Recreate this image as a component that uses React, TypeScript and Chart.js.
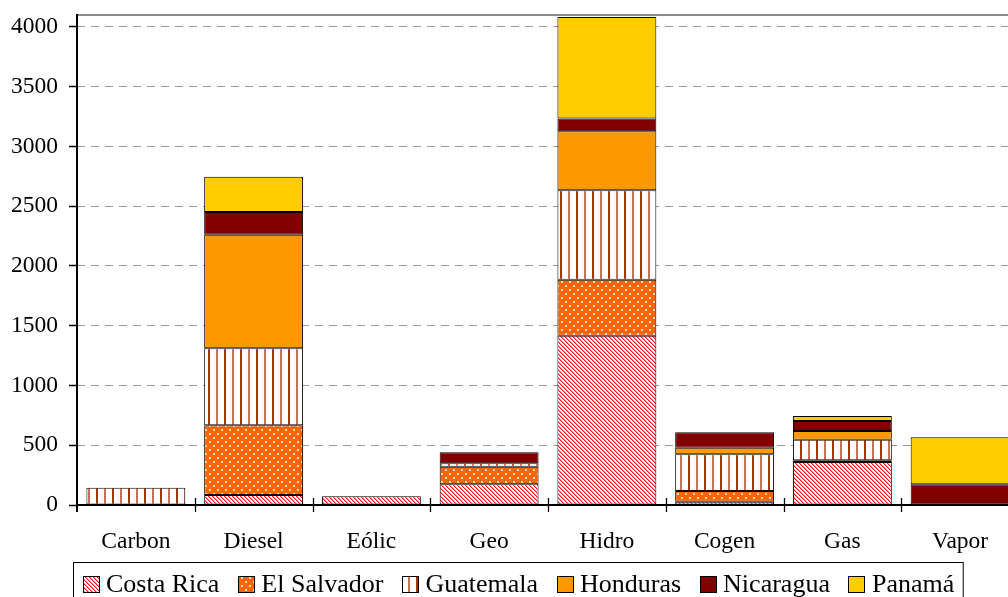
import { useEffect, useRef } from 'react';
import { Chart, registerables } from 'chart.js';

Chart.register(...registerables);

const categories = ['Carbon', 'Diesel', 'Eólic', 'Geo', 'Hidro', 'Cogen', 'Gas', 'Vapor'];
const seriesNames = ['Costa Rica', 'El Salvador', 'Guatemala', 'Honduras', 'Nicaragua', 'Panamá'];
const costaRica = [0, 84, 73, 173, 1417, 28, 360, 0];
const elSalvador = [0, 583, 0, 148, 468, 89, 15, 0];
const guatemala = [145, 644, 0, 28, 748, 307, 172, 0];
const honduras = [0, 951, 0, 0, 494, 56, 72, 0];
const nicaragua = [0, 190, 0, 92, 108, 128, 84, 173];
const panama = [0, 295, 0, 0, 849, 0, 42, 394];
const yTickValues = [0, 500, 1000, 1500, 2000, 2500, 3000, 3500, 4000];
const yMax = 4100;

const FONT = "'Liberation Serif', 'Times New Roman', serif";

function hatchPattern(ctx: CanvasRenderingContext2D): CanvasPattern {
  const c = document.createElement('canvas');
  c.width = 4;
  c.height = 4;
  const g = c.getContext('2d')!;
  g.fillStyle = '#ffffff';
  g.fillRect(0, 0, 4, 4);
  for (let x = 0; x < 4; x++) {
    for (let y = 0; y < 4; y++) {
      const d = (x - y + 8) % 4;
      if (d === 0) {
        g.fillStyle = '#ff1010';
        g.fillRect(x, y, 1, 1);
      } else if (d === 1) {
        g.fillStyle = '#ff9090';
        g.fillRect(x, y, 1, 1);
      }
    }
  }
  return ctx.createPattern(c, 'repeat')!;
}

function dotPattern(ctx: CanvasRenderingContext2D): CanvasPattern {
  const c = document.createElement('canvas');
  c.width = 8;
  c.height = 8;
  const g = c.getContext('2d')!;
  g.fillStyle = '#ff6600';
  g.fillRect(0, 0, 8, 8);
  g.fillStyle = '#ffd6b8';
  g.fillRect(1, 1, 2, 2);
  g.fillRect(5, 5, 2, 2);
  return ctx.createPattern(c, 'repeat')!;
}

function stripePattern(ctx: CanvasRenderingContext2D): CanvasPattern {
  const c = document.createElement('canvas');
  c.width = 16;
  c.height = 4;
  const g = c.getContext('2d')!;
  g.fillStyle = '#ffffff';
  g.fillRect(0, 0, 16, 4);
  g.fillStyle = '#a3360a';
  g.fillRect(0, 0, 2, 4);
  g.fillStyle = '#c27456';
  g.fillRect(8, 0, 2, 4);
  return ctx.createPattern(c, 'repeat')!;
}

const framePlugin = {
  id: 'frame',
  afterDatasetsDraw(chart: any) {
    const { ctx, chartArea: a, scales } = chart;
    const x = scales.x;
    ctx.save();
    ctx.setLineDash([]);
    ctx.strokeStyle = '#8c8c8c';
    ctx.lineWidth = 2;
    ctx.beginPath();
    ctx.moveTo(a.left, a.top);
    ctx.lineTo(a.right + 20, a.top);
    ctx.stroke();
    ctx.strokeStyle = '#000';
    ctx.lineWidth = 2;
    ctx.beginPath();
    ctx.moveTo(a.left, a.top - 1);
    ctx.lineTo(a.left, a.bottom + 7);
    ctx.stroke();
    ctx.beginPath();
    ctx.moveTo(a.left, a.bottom);
    ctx.lineTo(a.right + 20, a.bottom);
    ctx.stroke();
    ctx.lineWidth = 1.3;
    const n = chart.data.labels.length;
    for (let i = 1; i <= n; i++) {
      const px = Math.round(x.getPixelForValue(i - 0.5)) + 0.5;
      ctx.beginPath();
      ctx.moveTo(px, a.bottom - 7);
      ctx.lineTo(px, a.bottom + 7);
      ctx.stroke();
    }
    ctx.restore();
  },
  afterDraw(chart: any) {
    const { ctx } = chart;
    const ds = chart.data.datasets;
    ctx.save();
    ctx.font = `26px ${FONT}`;
    const marker = 17;
    const gapText = 6.5;
    const gapItem = 18.5;
    const pad = 9;
    const widths = ds.map((d: any) => ctx.measureText(d.label).width);
    let total = 0;
    widths.forEach((w: number, i: number) => {
      total += marker + gapText + w + (i < widths.length - 1 ? gapItem : 0);
    });
    const boxW = total + pad * 2;
    const centerX = 518;
    const boxLeft = Math.round(centerX - boxW / 2) + 0.5;
    const boxTop = 562.5;
    ctx.strokeStyle = '#000';
    ctx.lineWidth = 1;
    ctx.strokeRect(boxLeft, boxTop, boxW, 60);
    let cx = boxLeft + pad;
    ds.forEach((d: any, i: number) => {
      const mx = Math.round(cx);
      ctx.fillStyle = d.backgroundColor;
      ctx.fillRect(mx, 576, marker, marker);
      ctx.strokeStyle = '#000';
      ctx.lineWidth = 1;
      ctx.strokeRect(mx + 0.5, 576.5, marker - 1, marker - 1);
      ctx.fillStyle = '#000';
      ctx.textBaseline = 'alphabetic';
      ctx.textAlign = 'left';
      ctx.fillText(d.label, cx + marker + gapText, 592);
      cx += marker + gapText + widths[i] + gapItem;
    });
    ctx.restore();
  },
};

export default function App() {
  const ref = useRef<HTMLCanvasElement | null>(null);
  useEffect(() => {
    document.documentElement.style.overflow = 'hidden';
    document.body.style.overflow = 'hidden';
    const canvas = ref.current!;
    const ctx = canvas.getContext('2d')!;
    const fills: any[] = [
      hatchPattern(ctx),
      dotPattern(ctx),
      stripePattern(ctx),
      '#ff9900',
      '#800000',
      '#ffcc00',
    ];
    const values = [costaRica, elSalvador, guatemala, honduras, nicaragua, panama];
    const chart = new Chart(canvas, {
      type: 'bar',
      data: {
        labels: categories,
        datasets: values.map((v, i) => ({
          label: seriesNames[i],
          data: v,
          backgroundColor: fills[i],
          borderColor: '#000',
          borderWidth: 1,
          borderSkipped: false,
          barPercentage: 0.84,
          categoryPercentage: 1,
        })),
      },
      options: {
        responsive: false,
        animation: false,
        events: [],
        layout: { padding: { top: 15, right: 17, bottom: 45, left: 0 } },
        plugins: { legend: { display: false }, tooltip: { enabled: false } },
        scales: {
          x: {
            stacked: true,
            offset: true,
            grid: { display: false, drawTicks: false, offset: true },
            border: { display: false },
            ticks: { color: '#000', padding: 23, font: { family: FONT, size: 23.5 }, maxRotation: 0, autoSkip: false },
            afterFit: (axis: any) => {
              axis.height = 60;
              axis.paddingLeft = 0;
              axis.paddingRight = 0;
            },
          },
          y: {
            stacked: true,
            min: 0,
            max: yMax,
            grid: {
              color: '#9a9a9a',
              lineWidth: 1,
              tickLength: 8,
              tickColor: '#000',
              tickWidth: 1.5,
              tickBorderDash: [],
            },
            border: { display: false, dash: [8, 6] },
            ticks: {
              autoSkip: false,
              color: '#000',
              padding: 11,
              font: { family: FONT, size: 23.5 },
              callback: (v: any) => String(v),
            },
            afterBuildTicks: (axis: any) => {
              axis.ticks = yTickValues.map((value) => ({ value }));
            },
            afterFit: (axis: any) => {
              axis.width = 77;
              axis.paddingTop = 0;
              axis.paddingBottom = 0;
            },
          },
        },
      },
      plugins: [framePlugin],
    });
    return () => chart.destroy();
  }, []);
  return (
    <div style={{ position: 'fixed', left: 0, top: 0, width: 1036, height: 610, background: '#fff' }}>
      <canvas ref={ref} width={1036} height={610} style={{ display: 'block' }} />
    </div>
  );
}
